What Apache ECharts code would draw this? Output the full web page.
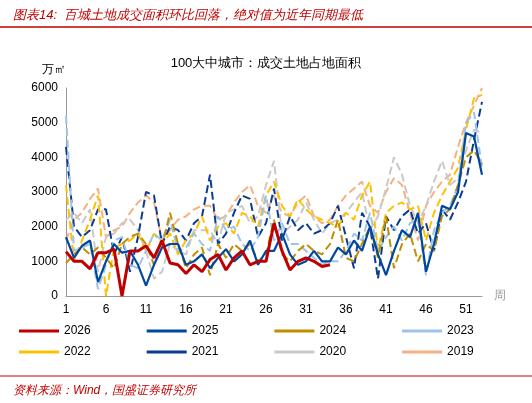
<!DOCTYPE html><html><head><meta charset="utf-8"><script src="https://cdn.jsdelivr.net/npm/echarts@6/dist/echarts.min.js"></script>
<style>body{margin:0;font-family:"Noto Sans CJK SC";}#c{width:532px;height:403px;}</style></head><body><div id="c"></div><script>
const weeks = Array.from({length:53},(_, i)=>String(i+1));
const y2026=[1280,1000,1000,780,1250,1250,1350,0,1300,1300,1450,1100,1600,950,900,650,900,700,1050,1200,750,1100,1300,900,1000,1000,2100,1300,750,1000,1100,1000,850,900];
const y2025=[1700,1100,1450,1600,400,1000,1500,1250,1300,900,300,900,1400,1500,1500,900,1000,1200,800,1100,1350,1000,1200,1600,900,1300,1300,1800,1200,900,1000,1300,1000,1000,1400,1200,1600,1300,2000,1200,600,1300,1900,1700,2400,700,1500,2600,2500,3000,4700,4600,3500];
const y2024=[950,1200,1400,1200,1400,1100,800,1500,1700,1800,1500,900,1400,2400,1500,800,1200,1400,600,1500,1100,1500,1300,1500,1000,1200,2200,1200,1000,1300,1500,1300,1200,1500,2200,1100,1000,1500,2000,1100,2300,800,1500,1800,1000,1500,1300,2300,2500,3200,4000,4200,3800];
const y2023=[5200,1300,1400,1500,200,900,1600,1700,900,800,1300,1800,1600,2200,1300,1400,1800,1500,1300,2300,1900,2000,1500,1300,1700,2900,1600,2100,1500,1500,1300,1100,900,1000,1000,1300,1800,1600,2400,1300,1700,2000,1600,2100,2200,600,1900,2400,2600,3200,5000,5300,3700];
const y2022=[3200,1000,1600,2200,2900,0,1400,1500,1600,1800,1300,1800,1500,1800,1200,1600,1800,2300,1600,2000,2100,1800,2400,2300,2000,2900,3300,2600,2300,2800,2500,2300,2200,2100,2000,2400,2200,2900,3300,1300,2400,2600,2700,2500,2600,1600,2400,2900,3300,3700,4800,5700,5800];
const y2021=[4300,2000,1700,1900,2500,2500,1200,1700,700,1700,3000,2900,1500,2000,1900,1600,2100,2300,3500,1500,1800,2400,2900,2800,1700,2100,3100,1600,2300,1900,2100,1800,1900,2100,2600,1700,800,2400,2000,500,2300,1900,2300,2500,1800,2100,1300,2500,2200,2700,3300,4500,5600];
const y2020=[2200,2400,2100,2500,700,1700,1800,2100,2200,1900,1300,500,700,1500,1300,1200,1900,1900,1900,1500,2400,2500,2600,2100,2300,3200,3900,1800,2000,2200,2700,2200,1800,2100,2200,2400,2700,3000,1900,2300,3100,4000,3500,2600,2100,2600,3300,3900,3200,3400,4200,4800,4700];
const y2019=[1600,2200,2400,2800,3100,1700,1900,2000,2400,2700,2900,2700,1600,1900,2200,2300,2500,2600,2600,2200,2300,2700,3000,3200,2600,2400,2900,2400,2300,2700,2900,2300,2100,2200,2600,2900,3100,3300,2600,2400,3000,3400,3200,2400,1600,2600,3000,3300,3500,4300,5000,5500,6000];
const names=['2026','2025','2024','2023','2022','2021','2020','2019'];
const datas=[y2026,y2025,y2024,y2023,y2022,y2021,y2020,y2019];
const colors=['#C00000','#0047A0','#BF8F00','#9DC3E6','#FFC000','#0A3D91','#C9C9C9','#F4B183'];
const widths=[3,2.2,2,2,2,2,2,2];
const types=['solid','solid','dashed','dashed','dashed','dashed','dashed','dashed'];
const order=[7,6,5,4,3,2,1,0];
const ch=echarts.init(document.getElementById('c'));
const lg=(items,top)=>({top:top,left:14,itemWidth:40,itemHeight:3,itemGap:56,textStyle:{fontSize:12,color:'#000'},data:items.map(n=>({name:n,icon:'rect'}))});
ch.setOption({animation:false,
 title:[{text:'图表14:  百城土地成交面积环比回落，绝对值为近年同期最低',left:8,top:4,textStyle:{color:'#C00000',fontSize:13,fontStyle:'italic',fontWeight:'normal'}},
  {text:'100大中城市：成交土地占地面积',left:'center',top:52,textStyle:{fontSize:13,fontWeight:'normal',color:'#000'}},
  {text:'资料来源：Wind，国盛证券研究所',left:8,top:380,textStyle:{color:'#C00000',fontSize:12,fontStyle:'italic',fontWeight:'normal'}}],
 graphic:[{type:'line',shape:{x1:0,y1:27,x2:532,y2:27},style:{stroke:'#C00000',lineWidth:1.5}},
  {type:'line',shape:{x1:0,y1:376,x2:532,y2:376},style:{stroke:'#C00000',lineWidth:1}}],
 grid:{left:66,right:50,top:88,bottom:107},
 legend:[lg(names.slice(0,4),320),lg(names.slice(4),341)],
 xAxis:{type:'category',data:weeks,boundaryGap:false,name:'周',nameGap:12,nameTextStyle:{fontSize:12},
  axisLine:{lineStyle:{color:'#999'}},axisTick:{show:false},axisLabel:{interval:4,color:'#000',fontSize:12}},
 yAxis:{type:'value',min:0,max:6000,interval:1000,name:'万㎡',nameLocation:'end',nameGap:12,nameTextStyle:{align:'right',color:'#000'},
  axisLine:{show:true,lineStyle:{color:'#999'}},splitLine:{show:false},axisLabel:{color:'#000',fontSize:12,formatter:v=>String(v)}},
 series:order.map(i=>({name:names[i],type:'line',data:datas[i],symbol:'none',z:10-i,
  lineStyle:{color:colors[i],width:widths[i],type:types[i]},itemStyle:{color:colors[i]}}))
});
</script></body></html>
